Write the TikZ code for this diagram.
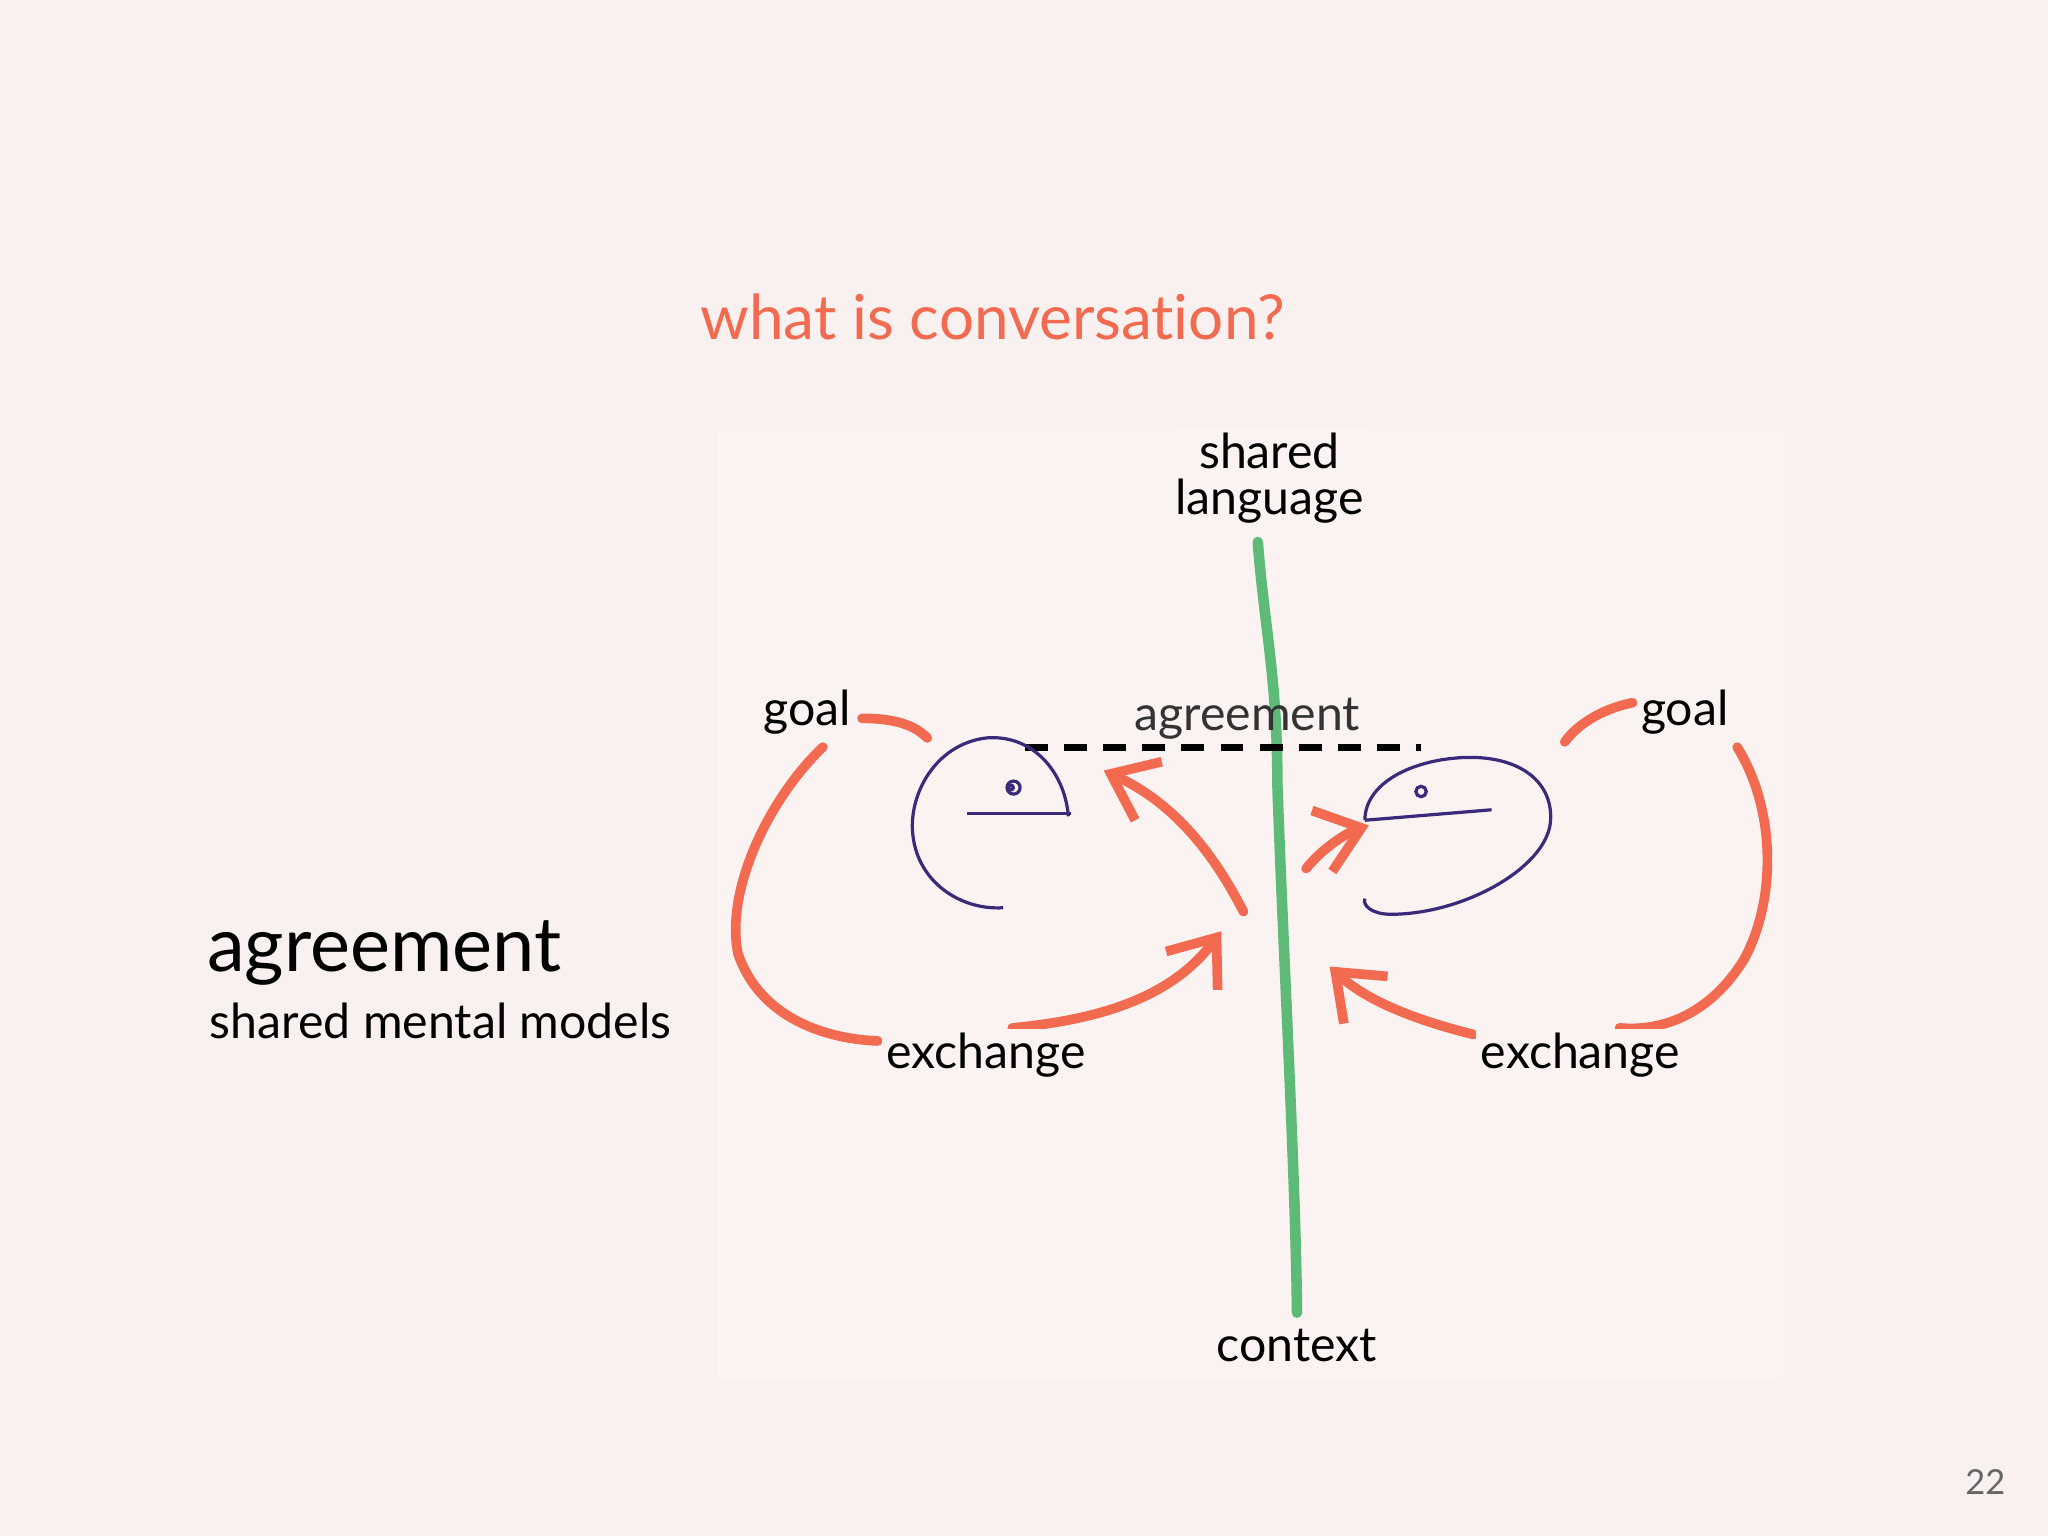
\documentclass[tikz,border=0pt]{standalone}
\usepackage{fontspec}
\setmainfont[Ligatures=NoCommon]{Lato}
\usetikzlibrary{arrows.meta}
\definecolor{bg}{HTML}{F9F1F0}
\definecolor{inner}{HTML}{FAF3F2}
\definecolor{orng}{HTML}{F26A4F}
\definecolor{grn}{HTML}{5DBB77}
\definecolor{purp}{HTML}{3B2A7A}
\tikzset{
 lbl/.style={font=\fontsize{10.5}{11}\selectfont, text=black, inner sep=1pt, fill=inner},
 oline/.style={draw=orng, line width=2.1pt, line cap=round},
 oarrow/.style={oline, -{Straight Barb[length=9pt,width=14pt,line width=2.1pt]}},
 face/.style={draw=purp, line width=0.7pt},
}
\begin{document}
\begin{tikzpicture}[x=0.01cm,y=-0.01cm]
\fill[bg] (0,0) rectangle (1568,1176);
\useasboundingbox (0,0) rectangle (1568,1176);
\fill[inner] (550,330) rectangle (1365,1055);
\node[font=\fontsize{13.5}{14}\selectfont, text=orng] (title) at (760,243) {what is conversation?};
% green line
\draw[grn, line width=2.3pt, line cap=round] (963,415) .. controls (968,480) and (978,520) .. (978,600) .. controls (982,720) and (992,900) .. (993,1005);
% dashed
\draw[black, line width=1.5pt, dash pattern=on 5pt off 3.5pt] (785,572) -- (1088,572);
% left face
\draw[face] (818,625) .. controls (815,590) and (790,562) .. (755,565) .. controls (715,570) and (695,610) .. (699,640) .. controls (703,675) and (735,697) .. (768,695);
\draw[face] (740,623) -- (820,623);
\draw[face] (776,603) circle (5);
\draw[face] (774,603) circle (1.8);
% right face
\draw[face] (1045,628) .. controls (1045,600) and (1080,582) .. (1120,580) .. controls (1165,578) and (1190,600) .. (1187,630) .. controls (1183,665) and (1120,700) .. (1065,700) .. controls (1050,700) and (1043,693) .. (1045,688);
\draw[face] (1045,628) -- (1142,620);
\draw[face] (1088,606) circle (4);
% orange
\draw[oline] (660,550) .. controls (685,550) and (700,555) .. (710,565);
\draw[oline] (630,572) .. controls (590,610) and (555,680) .. (565,730) .. controls (580,775) and (625,795) .. (672,797);
\draw[oarrow] (775,787) .. controls (850,780) and (900,760) .. (935,713);
\draw[oarrow] (952,698) .. controls (930,655) and (900,615) .. (845,590);
\draw[oarrow] (1000,665) .. controls (1012,650) and (1030,638) .. (1048,632);
\draw[oarrow] (1128,792) .. controls (1080,780) and (1045,765) .. (1018,740);
\draw[oline] (1198,568) .. controls (1210,552) and (1230,542) .. (1250,538);
\draw[oline] (1330,572) .. controls (1360,620) and (1360,690) .. (1335,735) .. controls (1310,775) and (1275,790) .. (1240,787);
% labels
\node[lbl, align=center] (lang) at (972,366) {shared\\[-1pt]language};
\node[lbl] (goalL) at (618,545) {goal};
\node[lbl, fill=none, text=black!80] (agr) at (955,550) {agreement};
\node[lbl] (goalR) at (1290,545) {goal};
\node[lbl] (exL) at (755,808) {exchange};
\node[lbl] (exR) at (1210,808) {exchange};
\node[lbl] (ctx) at (993,1030) {context};
\node[anchor=west, font=\fontsize{16.5}{17}\selectfont, inner sep=0] (big) at (158,730) {agreement};
\node[anchor=west, font=\fontsize{10.5}{12}\selectfont, inner sep=0] (sub) at (160,782) {shared mental models};
\node[font=\fontsize{7.5}{8}\selectfont, text=black!60] (pg) at (1520,1135) {22};
\end{tikzpicture}
\end{document}
